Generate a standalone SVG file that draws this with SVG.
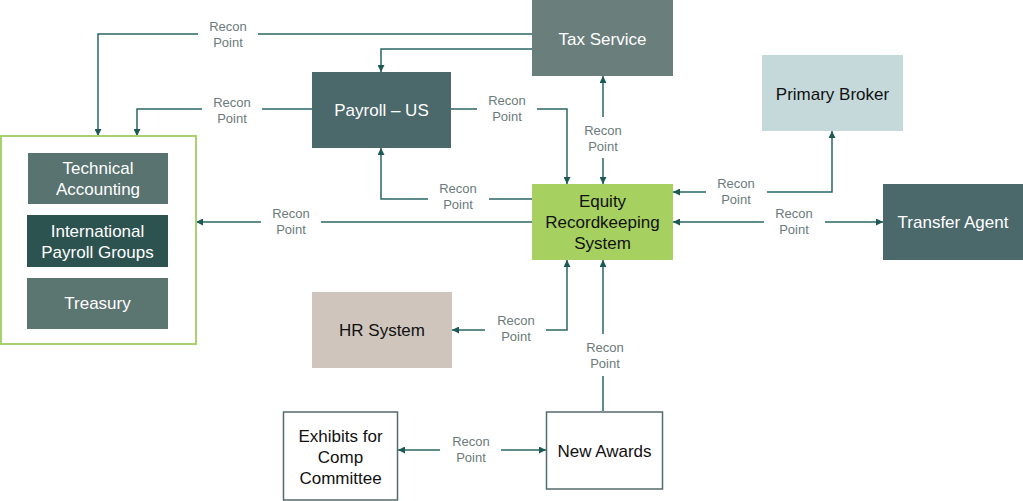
<svg xmlns="http://www.w3.org/2000/svg" width="1023" height="501" viewBox="0 0 1023 501">
<defs>
<marker id="ah" markerUnits="userSpaceOnUse" markerWidth="8" markerHeight="7" refX="7" refY="3.5" orient="auto-start-reverse"><path d="M0,0 L7,3.5 L0,7 z" fill="#1d5a55"/></marker>
<style>
.c{fill:none;stroke:#2a6767;stroke-width:1.5}
.lb{fill:#fff}
.lt{font-family:"Liberation Sans",Arial,sans-serif;font-size:13px;fill:#6b7b7b;text-anchor:middle}
.nt{font-family:"Liberation Sans",Arial,sans-serif;font-size:17px;text-anchor:middle}
.w{fill:#fff}
.k{fill:#111}
</style>
</defs>
<rect width="1023" height="501" fill="#fff"/>

<g id="connectors">
<path class="c" d="M532,34 H98 V136" marker-end="url(#ah)"/>
<path class="c" d="M532,49 H381 V72" marker-end="url(#ah)"/>
<path class="c" d="M312,109 H137 V136" marker-end="url(#ah)"/>
<path class="c" d="M451,109 H567 V184" marker-end="url(#ah)"/>
<path class="c" d="M603,184 V76" marker-start="url(#ah)" marker-end="url(#ah)"/>
<path class="c" d="M532,199 H381 V148" marker-end="url(#ah)"/>
<path class="c" d="M532,222 H196" marker-end="url(#ah)"/>
<path class="c" d="M673,192 H832 V131" marker-start="url(#ah)" marker-end="url(#ah)"/>
<path class="c" d="M673,222 H883" marker-start="url(#ah)" marker-end="url(#ah)"/>
<path class="c" d="M452,330 H567 V260" marker-start="url(#ah)" marker-end="url(#ah)"/>
<path class="c" d="M603,411 V260" marker-end="url(#ah)"/>
<path class="c" d="M398,450 H546" marker-start="url(#ah)" marker-end="url(#ah)"/>

<rect class="lb" x="198" y="28" width="60" height="12"/>
<text class="lt" x="228" y="31">Recon</text><text class="lt" x="228" y="47">Point</text>
<rect class="lb" x="202" y="103" width="60" height="12"/>
<text class="lt" x="232" y="107">Recon</text><text class="lt" x="232" y="123">Point</text>
<rect class="lb" x="477" y="103" width="60" height="12"/>
<text class="lt" x="507" y="105">Recon</text><text class="lt" x="507" y="121">Point</text>
<rect class="lb" x="597" y="117" width="12" height="41"/>
<text class="lt" x="603" y="135">Recon</text><text class="lt" x="603" y="151">Point</text>
<rect class="lb" x="428" y="193" width="61" height="12"/>
<text class="lt" x="458" y="193">Recon</text><text class="lt" x="458" y="209">Point</text>
<rect class="lb" x="261" y="216" width="60" height="12"/>
<text class="lt" x="291" y="218">Recon</text><text class="lt" x="291" y="234">Point</text>
<rect class="lb" x="706" y="186" width="61" height="12"/>
<text class="lt" x="736" y="188">Recon</text><text class="lt" x="736" y="204">Point</text>
<rect class="lb" x="764" y="216" width="61" height="12"/>
<text class="lt" x="794" y="218">Recon</text><text class="lt" x="794" y="234">Point</text>
<rect class="lb" x="485" y="324" width="61" height="12"/>
<text class="lt" x="516" y="325">Recon</text><text class="lt" x="516" y="341">Point</text>
<rect class="lb" x="597" y="334" width="12" height="42"/>
<text class="lt" x="605" y="352">Recon</text><text class="lt" x="605" y="368">Point</text>
<rect class="lb" x="440" y="444" width="61" height="12"/>
<text class="lt" x="471" y="446">Recon</text><text class="lt" x="471" y="462">Point</text>
</g>

<g id="tax-service">
<rect x="532" y="0" width="141" height="76" fill="#6a7e7c"/>
<text class="nt w" x="602.5" y="45">Tax Service</text>
</g>
<g id="payroll-us">
<rect x="312" y="72" width="139" height="76" fill="#4b686b"/>
<text class="nt w" x="381.5" y="116">Payroll – US</text>
</g>
<g id="primary-broker">
<rect x="762" y="55" width="141" height="76" fill="#c5d9da"/>
<text class="nt k" x="832.5" y="100">Primary Broker</text>
</g>
<g id="equity">
<rect x="532" y="184" width="141" height="76" fill="#a6d05f"/>
<text class="nt k" x="602.5" y="207">Equity</text>
<text class="nt k" x="602.5" y="228">Recordkeeping</text>
<text class="nt k" x="602.5" y="249">System</text>
</g>
<g id="transfer-agent">
<rect x="883" y="184" width="140" height="76" fill="#4b686b"/>
<text class="nt w" x="953" y="228">Transfer Agent</text>
</g>
<g id="accounting-group">
<rect x="1" y="136" width="195" height="208" fill="#fff" stroke="#a9d16b" stroke-width="2"/>
<rect x="28" y="153" width="140" height="51" fill="#587370"/>
<text class="nt w" x="98" y="174">Technical</text>
<text class="nt w" x="98" y="195">Accounting</text>
<rect x="27" y="215" width="141" height="52" fill="#2d5350"/>
<text class="nt w" x="97.5" y="237">International</text>
<text class="nt w" x="97.5" y="258">Payroll Groups</text>
<rect x="27" y="278" width="141" height="51" fill="#5b7571"/>
<text class="nt w" x="97.5" y="309">Treasury</text>
</g>
<g id="hr-system">
<rect x="312" y="292" width="140" height="76" fill="#cfc5bc"/>
<text class="nt k" x="382" y="336">HR System</text>
</g>
<g id="exhibits">
<rect x="283.5" y="412" width="114" height="88" fill="#fff" stroke="#556b6b" stroke-width="1.5"/>
<text class="nt k" x="340.5" y="442">Exhibits for</text>
<text class="nt k" x="340.5" y="463">Comp</text>
<text class="nt k" x="340.5" y="484">Committee</text>
</g>
<g id="new-awards">
<rect x="546.5" y="412" width="116" height="77" fill="#fff" stroke="#556b6b" stroke-width="1.5"/>
<text class="nt k" x="604.5" y="457">New Awards</text>
</g>
</svg>
